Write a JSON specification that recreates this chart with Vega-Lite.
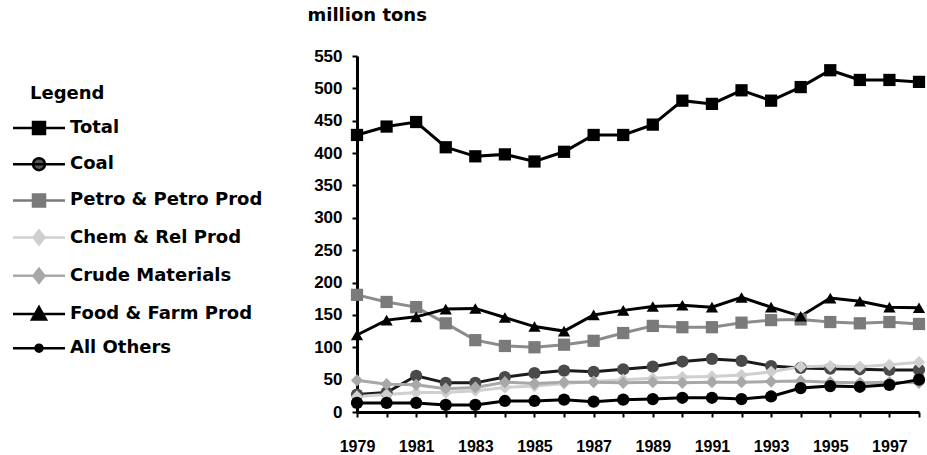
{
  "$schema": "https://vega.github.io/schema/vega-lite/v6.json",
  "width": 562,
  "height": 356,
  "autosize": {"type": "none"},
  "padding": {"left": 357, "top": 56, "right": 8, "bottom": 43},
  "background": "#ffffff",
  "config": {
    "view": {"stroke": null},
    "axis": {
      "grid": false,
      "domainColor": "#000",
      "domainWidth": 3,
      "tickColor": "#000",
      "tickWidth": 2,
      "tickSize": 5,
      "labelColor": "#000",
      "labelFont": "Liberation Sans",
      "labelFontWeight": "bold",
      "labelFontSize": 16
    }
  },
  "datasets": {
    "legendKeys": [
      {"label": "Total"}, {"label": "Coal"}, {"label": "Petro & Petro Prod"}, {"label": "Chem & Rel Prod"}, {"label": "Crude Materials"}, {"label": "Food & Farm Prod"}, {"label": "All Others"}
    ],
    "freight": [
      {"year":1979,"series":"Total","value":428},{"year":1980,"series":"Total","value":441},{"year":1981,"series":"Total","value":448},{"year":1982,"series":"Total","value":409},{"year":1983,"series":"Total","value":395},{"year":1984,"series":"Total","value":398},{"year":1985,"series":"Total","value":387},{"year":1986,"series":"Total","value":402},{"year":1987,"series":"Total","value":428},{"year":1988,"series":"Total","value":428},{"year":1989,"series":"Total","value":444},{"year":1990,"series":"Total","value":481},{"year":1991,"series":"Total","value":476},{"year":1992,"series":"Total","value":497},{"year":1993,"series":"Total","value":481},{"year":1994,"series":"Total","value":502},{"year":1995,"series":"Total","value":528},{"year":1996,"series":"Total","value":513},{"year":1997,"series":"Total","value":513},{"year":1998,"series":"Total","value":510},
      {"year":1979,"series":"Coal","value":27},{"year":1980,"series":"Coal","value":30},{"year":1981,"series":"Coal","value":56},{"year":1982,"series":"Coal","value":45},{"year":1983,"series":"Coal","value":45},{"year":1984,"series":"Coal","value":54},{"year":1985,"series":"Coal","value":60},{"year":1986,"series":"Coal","value":64},{"year":1987,"series":"Coal","value":62},{"year":1988,"series":"Coal","value":66},{"year":1989,"series":"Coal","value":70},{"year":1990,"series":"Coal","value":78},{"year":1991,"series":"Coal","value":82},{"year":1992,"series":"Coal","value":79},{"year":1993,"series":"Coal","value":71},{"year":1994,"series":"Coal","value":68},{"year":1995,"series":"Coal","value":67},{"year":1996,"series":"Coal","value":66},{"year":1997,"series":"Coal","value":65},{"year":1998,"series":"Coal","value":65},
      {"year":1979,"series":"Petro & Petro Prod","value":181},{"year":1980,"series":"Petro & Petro Prod","value":170},{"year":1981,"series":"Petro & Petro Prod","value":162},{"year":1982,"series":"Petro & Petro Prod","value":137},{"year":1983,"series":"Petro & Petro Prod","value":111},{"year":1984,"series":"Petro & Petro Prod","value":102},{"year":1985,"series":"Petro & Petro Prod","value":100},{"year":1986,"series":"Petro & Petro Prod","value":104},{"year":1987,"series":"Petro & Petro Prod","value":110},{"year":1988,"series":"Petro & Petro Prod","value":122},{"year":1989,"series":"Petro & Petro Prod","value":133},{"year":1990,"series":"Petro & Petro Prod","value":131},{"year":1991,"series":"Petro & Petro Prod","value":131},{"year":1992,"series":"Petro & Petro Prod","value":138},{"year":1993,"series":"Petro & Petro Prod","value":142},{"year":1994,"series":"Petro & Petro Prod","value":143},{"year":1995,"series":"Petro & Petro Prod","value":139},{"year":1996,"series":"Petro & Petro Prod","value":137},{"year":1997,"series":"Petro & Petro Prod","value":139},{"year":1998,"series":"Petro & Petro Prod","value":136},
      {"year":1979,"series":"Chem & Rel Prod","value":24},{"year":1980,"series":"Chem & Rel Prod","value":27},{"year":1981,"series":"Chem & Rel Prod","value":30},{"year":1982,"series":"Chem & Rel Prod","value":30},{"year":1983,"series":"Chem & Rel Prod","value":33},{"year":1984,"series":"Chem & Rel Prod","value":38},{"year":1985,"series":"Chem & Rel Prod","value":40},{"year":1986,"series":"Chem & Rel Prod","value":44},{"year":1987,"series":"Chem & Rel Prod","value":47},{"year":1988,"series":"Chem & Rel Prod","value":50},{"year":1989,"series":"Chem & Rel Prod","value":52},{"year":1990,"series":"Chem & Rel Prod","value":54},{"year":1991,"series":"Chem & Rel Prod","value":55},{"year":1992,"series":"Chem & Rel Prod","value":57},{"year":1993,"series":"Chem & Rel Prod","value":62},{"year":1994,"series":"Chem & Rel Prod","value":70},{"year":1995,"series":"Chem & Rel Prod","value":71},{"year":1996,"series":"Chem & Rel Prod","value":70},{"year":1997,"series":"Chem & Rel Prod","value":73},{"year":1998,"series":"Chem & Rel Prod","value":77},
      {"year":1979,"series":"Crude Materials","value":49},{"year":1980,"series":"Crude Materials","value":43},{"year":1981,"series":"Crude Materials","value":42},{"year":1982,"series":"Crude Materials","value":36},{"year":1983,"series":"Crude Materials","value":38},{"year":1984,"series":"Crude Materials","value":46},{"year":1985,"series":"Crude Materials","value":44},{"year":1986,"series":"Crude Materials","value":46},{"year":1987,"series":"Crude Materials","value":46},{"year":1988,"series":"Crude Materials","value":45},{"year":1989,"series":"Crude Materials","value":46},{"year":1990,"series":"Crude Materials","value":45},{"year":1991,"series":"Crude Materials","value":46},{"year":1992,"series":"Crude Materials","value":46},{"year":1993,"series":"Crude Materials","value":47},{"year":1994,"series":"Crude Materials","value":48},{"year":1995,"series":"Crude Materials","value":46},{"year":1996,"series":"Crude Materials","value":45},{"year":1997,"series":"Crude Materials","value":46},{"year":1998,"series":"Crude Materials","value":45},
      {"year":1979,"series":"Food & Farm Prod","value":119},{"year":1980,"series":"Food & Farm Prod","value":142},{"year":1981,"series":"Food & Farm Prod","value":147},{"year":1982,"series":"Food & Farm Prod","value":159},{"year":1983,"series":"Food & Farm Prod","value":160},{"year":1984,"series":"Food & Farm Prod","value":146},{"year":1985,"series":"Food & Farm Prod","value":132},{"year":1986,"series":"Food & Farm Prod","value":125},{"year":1987,"series":"Food & Farm Prod","value":150},{"year":1988,"series":"Food & Farm Prod","value":157},{"year":1989,"series":"Food & Farm Prod","value":163},{"year":1990,"series":"Food & Farm Prod","value":165},{"year":1991,"series":"Food & Farm Prod","value":162},{"year":1992,"series":"Food & Farm Prod","value":177},{"year":1993,"series":"Food & Farm Prod","value":162},{"year":1994,"series":"Food & Farm Prod","value":148},{"year":1995,"series":"Food & Farm Prod","value":176},{"year":1996,"series":"Food & Farm Prod","value":171},{"year":1997,"series":"Food & Farm Prod","value":162},{"year":1998,"series":"Food & Farm Prod","value":161},
      {"year":1979,"series":"All Others","value":14},{"year":1980,"series":"All Others","value":14},{"year":1981,"series":"All Others","value":14},{"year":1982,"series":"All Others","value":11},{"year":1983,"series":"All Others","value":11},{"year":1984,"series":"All Others","value":17},{"year":1985,"series":"All Others","value":17},{"year":1986,"series":"All Others","value":19},{"year":1987,"series":"All Others","value":16},{"year":1988,"series":"All Others","value":19},{"year":1989,"series":"All Others","value":20},{"year":1990,"series":"All Others","value":22},{"year":1991,"series":"All Others","value":22},{"year":1992,"series":"All Others","value":20},{"year":1993,"series":"All Others","value":24},{"year":1994,"series":"All Others","value":37},{"year":1995,"series":"All Others","value":40},{"year":1996,"series":"All Others","value":39},{"year":1997,"series":"All Others","value":42},{"year":1998,"series":"All Others","value":50}
    ]
  },
  "data": {"name": "freight"},
  "encoding": {
    "x": {
      "field": "year",
      "type": "quantitative",
      "scale": {"domain": [1979, 1998], "nice": false, "zero": false},
      "axis": {
        "title": null,
        "values": [1979,1980,1981,1982,1983,1984,1985,1986,1987,1988,1989,1990,1991,1992,1993,1994,1995,1996,1997,1998],
        "labelExpr": "datum.value % 2 == 1 ? datum.value : ''",
        "labelPadding": 21,
        "labelFlush": false,
        "labelOverlap": false
      }
    },
    "y": {
      "field": "value",
      "type": "quantitative",
      "scale": {"domain": [0, 550], "nice": false},
      "axis": {
        "title": "million tons",
        "titleAngle": 0,
        "titleAlign": "left",
        "titleBaseline": "alphabetic",
        "titleX": -50,
        "titleY": -36,
        "titleFont": "DejaVu Sans",
        "titleFontSize": 18,
        "titleFontWeight": "bold",
        "titleColor": "#000",
        "labelFontSize": 17,
        "values": [0,50,100,150,200,250,300,350,400,450,500,550],
        "labelPadding": 10
      }
    }
  },
  "resolve": {
    "scale": {"shape": "independent", "fill": "independent", "stroke": "independent", "size": "independent"},
    "legend": {"shape": "independent", "fill": "independent", "stroke": "independent", "size": "independent"}
  },
  "layer": [
    {
      "mark": {"type": "line", "strokeWidth": 3},
      "encoding": {
        "stroke": {
          "field": "series",
          "type": "nominal",
          "scale": {
            "domain": ["Total","Coal","Petro & Petro Prod","Chem & Rel Prod","Crude Materials","Food & Farm Prod","All Others"],
            "range": ["#000000","#1a1a1a","#8c8c8c","#cfcfcf","#a8a8a8","#000000","#000000"]
          },
          "legend": null
        }
      }
    },
    {
      "mark": {"type": "point", "filled": true, "opacity": 1},
      "encoding": {
        "fill": {
          "field": "series",
          "type": "nominal",
          "scale": {
            "domain": ["Total","Coal","Petro & Petro Prod","Chem & Rel Prod","Crude Materials","Food & Farm Prod","All Others"],
            "range": ["#000000","#4a4a4a","#7a7a7a","#cfcfcf","#a8a8a8","#000000","#000000"]
          },
          "legend": null
        },
        "shape": {
          "field": "series",
          "type": "nominal",
          "scale": {
            "domain": ["Total","Coal","Petro & Petro Prod","Chem & Rel Prod","Crude Materials","Food & Farm Prod","All Others"],
            "range": ["square","circle","square","diamond","diamond","triangle-up","circle"]
          },
          "legend": null
        },
        "size": {
          "field": "series",
          "type": "nominal",
          "scale": {
            "domain": ["Total","Coal","Petro & Petro Prod","Chem & Rel Prod","Crude Materials","Food & Farm Prod","All Others"],
            "range": [150, 150, 180, 200, 200, 230, 60]
          },
          "legend": null
        }
      }
    },
    {
      "data": {"name": "legendKeys"},
      "mark": {"type": "point", "filled": true, "opacity": 1, "strokeWidth": 2.5},
      "encoding": {
        "x": {"field": "year", "type": "quantitative"},
        "y": {"field": "value", "type": "quantitative"},
        "shape": {
          "field": "label",
          "type": "nominal",
          "scale": {
            "domain": ["Total","Coal","Petro & Petro Prod","Chem & Rel Prod","Crude Materials","Food & Farm Prod","All Others"],
            "range": [
              "M-5.2,0H5.2M-1.2,-1.2H1.2V1.2H-1.2Z",
              "M-5.2,0H5.2M-1.2,0A1.2,1.2,0,1,0,1.2,0A1.2,1.2,0,1,0,-1.2,0Z",
              "M-5.2,0H5.2M-1.2,-1.2H1.2V1.2H-1.2Z",
              "M-5.2,0H5.2M0,-1.4L1.1,0L0,1.4L-1.1,0Z",
              "M-5.2,0H5.2M0,-1.4L1.1,0L0,1.4L-1.1,0Z",
              "M-5.2,0H5.2M0,-1.4L1.4,1.1H-1.4Z",
              "M-5.2,0H5.2M-0.7,0A0.7,0.7,0,1,0,0.7,0A0.7,0.7,0,1,0,-0.7,0Z"
            ]
          },
          "legend": {
            "title": "Legend",
            "orient": "none",
            "legendX": -327,
            "legendY": 29,
            "titleFont": "DejaVu Sans",
            "titleFontSize": 18,
            "titleFontWeight": "bold",
            "titleColor": "#000",
            "titlePadding": 16,
            "labelFont": "DejaVu Sans",
            "labelFontSize": 18,
            "labelFontWeight": "bold",
            "labelColor": "#000",
            "labelLimit": 400,
            "labelOffset": 22,
            "rowPadding": 14.2,
            "symbolSize": 100,
            "symbolStrokeWidth": 2.5,
            "symbolOpacity": 1
          }
        },
        "fill": {
          "field": "label",
          "type": "nominal",
          "scale": {
            "domain": ["Total","Coal","Petro & Petro Prod","Chem & Rel Prod","Crude Materials","Food & Farm Prod","All Others"],
            "range": ["#000000","#555555","#7a7a7a","#cfcfcf","#a8a8a8","#000000","#000000"]
          },
          "legend": {"title": "Legend"}
        },
        "stroke": {
          "field": "label",
          "type": "nominal",
          "scale": {
            "domain": ["Total","Coal","Petro & Petro Prod","Chem & Rel Prod","Crude Materials","Food & Farm Prod","All Others"],
            "range": ["#000000","#000000","#7a7a7a","#cfcfcf","#a8a8a8","#000000","#000000"]
          },
          "legend": {"title": "Legend"}
        }
      }
    }
  ]
}
